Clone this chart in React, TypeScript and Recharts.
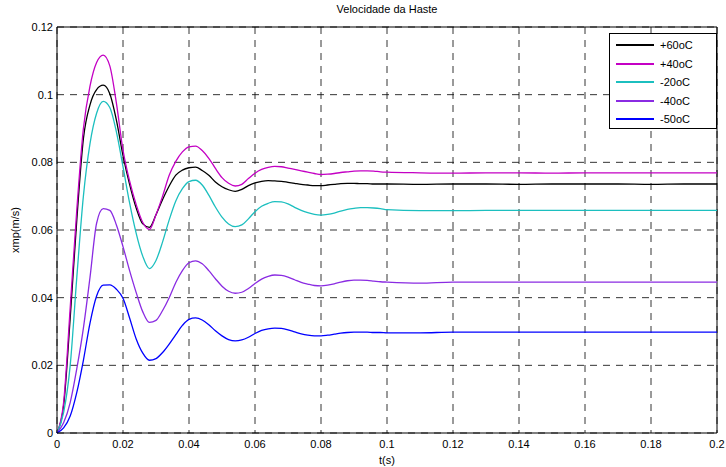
import { CartesianGrid, Line, LineChart, ReferenceLine, XAxis, YAxis } from "recharts";

// time base (s)
const tValues = [
  0, 0.002, 0.004, 0.006, 0.008, 0.01, 0.012, 0.014, 0.016, 0.018,
  0.02, 0.022, 0.024, 0.026, 0.028, 0.03, 0.032, 0.034, 0.036, 0.038,
  0.04, 0.042, 0.044, 0.046, 0.048, 0.05, 0.052, 0.054, 0.056, 0.058,
  0.06, 0.062, 0.064, 0.066, 0.068, 0.07, 0.072, 0.074, 0.076, 0.078,
  0.08, 0.082, 0.084, 0.086, 0.088, 0.09, 0.092, 0.094, 0.096, 0.098,
  0.1, 0.11, 0.12, 0.13, 0.14, 0.15, 0.16, 0.17, 0.18, 0.19, 0.2,
];

// xmp (m/s) per temperature
const plus60 = [
  0, 0.008, 0.034, 0.063, 0.087, 0.097, 0.1015, 0.1028, 0.1003, 0.0925,
  0.082, 0.0735, 0.0665, 0.0618, 0.0608, 0.0645, 0.069, 0.073, 0.0762, 0.0777,
  0.0784, 0.0786, 0.0776, 0.0762, 0.0742, 0.0728, 0.0719, 0.0714, 0.072, 0.0731,
  0.0739, 0.0744, 0.0746, 0.0745, 0.0744, 0.0741, 0.0738, 0.0735, 0.0733, 0.0731,
  0.0731, 0.0733, 0.0735, 0.0737, 0.0738, 0.0738, 0.0737, 0.0737, 0.0736, 0.0736,
  0.0736, 0.0735, 0.0736, 0.0736, 0.0735, 0.0736, 0.0736, 0.0736, 0.0735, 0.0736, 0.0736,
];
const plus40 = [
  0, 0.009, 0.037, 0.066, 0.09, 0.1025, 0.1095, 0.1117, 0.1085, 0.0975,
  0.0836, 0.0745, 0.0675, 0.0622, 0.0602, 0.0645, 0.07, 0.0762, 0.0803, 0.0831,
  0.0846, 0.0848, 0.0835, 0.0812, 0.0782, 0.0755, 0.0738, 0.073, 0.0735, 0.0752,
  0.0768, 0.0779, 0.0785, 0.0788, 0.0787, 0.0783, 0.0779, 0.0775, 0.0771, 0.0767,
  0.0764, 0.0765, 0.0767, 0.077, 0.0772, 0.0774, 0.0775, 0.0775, 0.0774, 0.0772,
  0.0771, 0.0769, 0.0768, 0.0769, 0.0769, 0.0768, 0.0769, 0.0769, 0.0769, 0.0769, 0.0769,
];
const minus20 = [
  0, 0.006, 0.02, 0.046, 0.07, 0.0855, 0.0945, 0.098, 0.0962, 0.089,
  0.0787, 0.068, 0.059, 0.0522, 0.0486, 0.051, 0.0565, 0.063, 0.0686, 0.0722,
  0.0743, 0.0747, 0.0733, 0.0703, 0.0668, 0.0638, 0.0618, 0.061, 0.0615, 0.0633,
  0.0654, 0.067, 0.0679, 0.0684, 0.0683, 0.0677, 0.0667, 0.0658, 0.0651, 0.0646,
  0.0644, 0.0646, 0.065, 0.0656, 0.0661, 0.0664, 0.0666, 0.0666, 0.0665, 0.0663,
  0.066, 0.0657, 0.0657, 0.0658, 0.0658, 0.0658, 0.0658, 0.0658, 0.0658, 0.0658, 0.0658,
];
const minus40 = [
  0, 0.003, 0.009, 0.019, 0.031, 0.046, 0.062, 0.0663, 0.0658, 0.0615,
  0.0551, 0.048, 0.0415, 0.0358, 0.0327, 0.0333, 0.0362, 0.04, 0.0445, 0.048,
  0.0503, 0.0509, 0.05, 0.048, 0.0456, 0.0434, 0.0419, 0.0413, 0.0416, 0.0427,
  0.0442, 0.0455, 0.0463, 0.0467, 0.0466, 0.0461, 0.0453, 0.0445, 0.044, 0.0436,
  0.0435, 0.0437, 0.0441, 0.0446, 0.045, 0.0452, 0.0452, 0.0451, 0.0449, 0.0447,
  0.0446, 0.0443, 0.0446, 0.0446, 0.0446, 0.0446, 0.0446, 0.0446, 0.0446, 0.0446, 0.0446,
];
const minus50 = [
  0, 0.0015, 0.005, 0.012, 0.0215, 0.0325, 0.0405, 0.0437, 0.0438, 0.0425,
  0.0398, 0.034, 0.0278, 0.0236, 0.0215, 0.022, 0.0238, 0.0263, 0.0291, 0.0318,
  0.0336, 0.034, 0.0334, 0.032, 0.0302, 0.0287, 0.0276, 0.0272, 0.0275, 0.0283,
  0.0294, 0.0303, 0.0308, 0.031, 0.0309, 0.0305, 0.0299, 0.0293, 0.0289, 0.0287,
  0.0287, 0.0289, 0.0292, 0.0295, 0.0297, 0.0298, 0.0298, 0.0298, 0.0297, 0.0297,
  0.0296, 0.0296, 0.0298, 0.0298, 0.0298, 0.0298, 0.0298, 0.0298, 0.0298, 0.0298, 0.0298,
];

const xTicks = [0, 0.02, 0.04, 0.06, 0.08, 0.1, 0.12, 0.14, 0.16, 0.18, 0.2];
const yTicks = [0, 0.02, 0.04, 0.06, 0.08, 0.1, 0.12];

const series = [
  { key: "p60", name: "+60oC", color: "#000000", values: plus60 },
  { key: "p40", name: "+40oC", color: "#c400c4", values: plus40 },
  { key: "m20", name: "-20oC", color: "#1cbfbf", values: minus20 },
  { key: "m40", name: "-40oC", color: "#8a2be2", values: minus40 },
  { key: "m50", name: "-50oC", color: "#0000ff", values: minus50 },
];

const data = tValues.map((t, i) => {
  const row: Record<string, number> = { t };
  series.forEach((s) => (row[s.key] = s.values[i]));
  return row;
});

const font = "'Liberation Sans', Arial, sans-serif";
const fmt = (v: number) => String(Number(v.toFixed(2)));

const App = () => {
  return (
    <div style={{ position: "absolute", left: 0, top: 0, width: 726, height: 467, background: "#fff", fontFamily: font }}>
      <LineChart width={726} height={467} data={data} margin={{ top: 27, right: 9, left: 0, bottom: 0 }}>
        <CartesianGrid stroke="#111" strokeOpacity={0.85} strokeDasharray="7 6" />
        <XAxis
          dataKey="t"
          type="number"
          domain={[0, 0.2]}
          ticks={xTicks}
          tickFormatter={fmt}
          tickSize={0}
          tickMargin={7}
          height={34}
          stroke="#000"
          tick={{ fill: "#000", fontSize: 11, fontFamily: font }}
          label={{ value: "t(s)", position: "insideBottom", offset: 3, fill: "#000", fontSize: 11, fontFamily: font }}
        />
        <YAxis
          type="number"
          domain={[0, 0.12]}
          ticks={yTicks}
          tickFormatter={fmt}
          tickSize={0}
          tickMargin={4}
          width={57}
          stroke="#000"
          tick={{ fill: "#000", fontSize: 11, fontFamily: font }}
          label={{
            value: "xmp(m/s)",
            angle: -90,
            position: "insideLeft",
            offset: 15,
            fill: "#000",
            fontSize: 11,
            fontFamily: font,
            style: { textAnchor: "middle" },
          }}
        />
        <ReferenceLine y={0.12} stroke="#000" />
        <ReferenceLine x={0.2} stroke="#000" />
        {series.map((s) => (
          <Line
            key={s.key}
            type="monotone"
            dataKey={s.key}
            name={s.name}
            stroke={s.color}
            strokeWidth={1.3}
            dot={false}
            isAnimationActive={false}
          />
        ))}
      </LineChart>
      <div style={{ position: "absolute", left: 57, top: 3, width: 660, textAlign: "center", fontSize: 11, color: "#000" }}>
        Velocidade da Haste
      </div>
      <div
        style={{
          position: "absolute",
          left: 609,
          top: 33,
          width: 106,
          height: 94,
          border: "1px solid #000",
          background: "#fff",
          fontSize: 11,
          color: "#000",
        }}
      >
        {series.map((s, i) => (
          <div key={s.key} style={{ position: "absolute", left: 6, top: 3 + i * 18.5, height: 16, display: "flex", alignItems: "center" }}>
            <span style={{ display: "inline-block", width: 38, height: 2, background: s.color, marginRight: 6 }} />
            <span>{s.name}</span>
          </div>
        ))}
      </div>
    </div>
  );
};

export default App;
